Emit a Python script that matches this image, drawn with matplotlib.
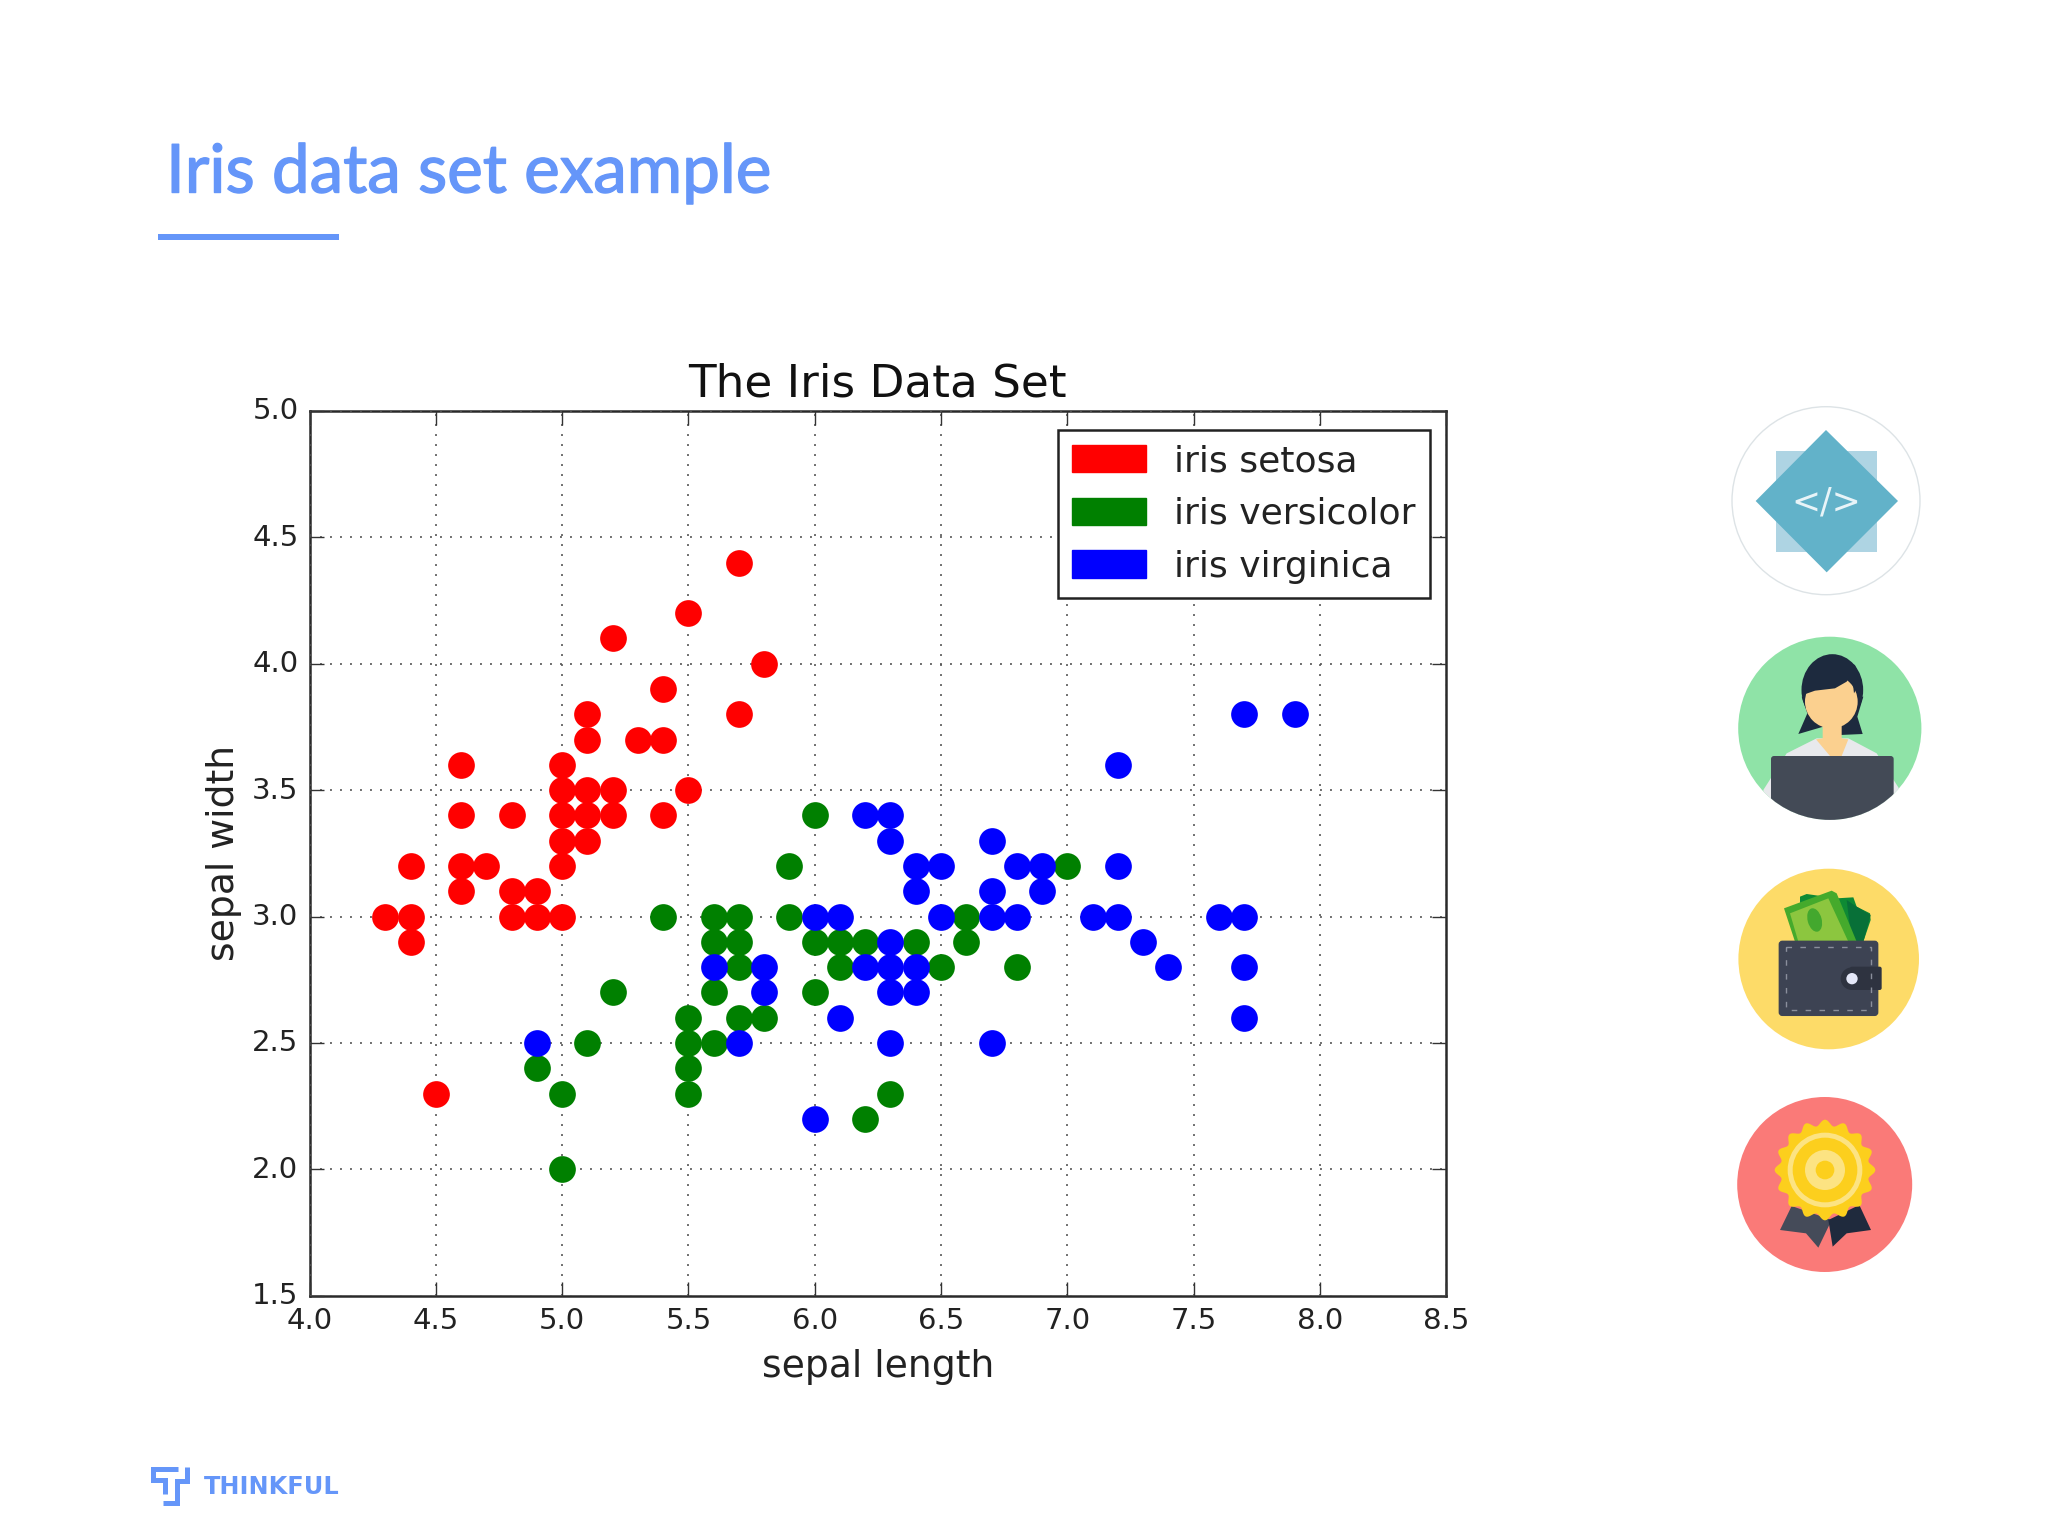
import numpy as np
import matplotlib
matplotlib.use("Agg")
import matplotlib.pyplot as plt
import matplotlib.patheffects as pe
from matplotlib.patches import Circle, Polygon, Rectangle, FancyBboxPatch, Patch, Ellipse
from matplotlib.transforms import ScaledTranslation

plt.rcParams['lines.scale_dashes'] = False
plt.rcParams['font.family'] = 'DejaVu Sans'

# Scatter data (sepal length, sepal width)
setosa_x = [5.7, 5.5, 5.2, 5.8, 5.4, 5.1, 5.7, 5.1, 5.3, 5.4, 4.6, 5.0, 5.0, 5.1, 5.2, 5.5, 4.6, 4.8, 5.0,
            5.1, 5.2, 5.4, 5.0, 5.1, 4.4, 4.6, 4.7, 5.0, 4.6, 4.8, 4.9, 4.3, 4.4, 4.8, 4.9, 5.0, 4.4, 4.5]
setosa_y = [4.4, 4.2, 4.1, 4.0, 3.9, 3.8, 3.8, 3.7, 3.7, 3.7, 3.6, 3.6, 3.5, 3.5, 3.5, 3.5, 3.4, 3.4, 3.4,
            3.4, 3.4, 3.4, 3.3, 3.3, 3.2, 3.2, 3.2, 3.2, 3.1, 3.1, 3.1, 3.0, 3.0, 3.0, 3.0, 3.0, 2.9, 2.3]

versicolor_x = [6.0, 5.9, 7.0, 5.4, 5.6, 5.7, 5.9, 6.6, 5.6, 5.7, 6.0, 6.1, 6.2, 6.4, 6.6, 5.7, 6.1, 6.5, 6.8,
                5.2, 5.6, 6.0, 5.5, 5.7, 5.8, 5.1, 5.5, 5.6, 4.9, 5.5, 5.0, 5.5, 6.3, 6.2, 5.0]
versicolor_y = [3.4, 3.2, 3.2, 3.0, 3.0, 3.0, 3.0, 3.0, 2.9, 2.9, 2.9, 2.9, 2.9, 2.9, 2.9, 2.8, 2.8, 2.8, 2.8,
                2.7, 2.7, 2.7, 2.6, 2.6, 2.6, 2.5, 2.5, 2.5, 2.4, 2.4, 2.3, 2.3, 2.3, 2.2, 2.0]

virginica_x = [7.7, 7.9, 7.2, 6.2, 6.3, 6.3, 6.7, 6.4, 6.5, 6.8, 6.9, 7.2, 6.4, 6.7, 6.9, 6.0, 6.1, 6.5, 6.7,
               6.8, 7.1, 7.2, 7.6, 7.7, 6.3, 7.3, 5.6, 5.8, 6.2, 6.3, 6.4, 7.4, 7.7, 5.8, 6.3, 6.4, 6.1, 7.7,
               4.9, 5.7, 6.3, 6.7, 6.0]
virginica_y = [3.8, 3.8, 3.6, 3.4, 3.4, 3.3, 3.3, 3.2, 3.2, 3.2, 3.2, 3.2, 3.1, 3.1, 3.1, 3.0, 3.0, 3.0, 3.0,
               3.0, 3.0, 3.0, 3.0, 3.0, 2.9, 2.9, 2.8, 2.8, 2.8, 2.8, 2.8, 2.8, 2.8, 2.7, 2.7, 2.7, 2.6, 2.6,
               2.5, 2.5, 2.5, 2.5, 2.2]

x_ticks = [4.0, 4.5, 5.0, 5.5, 6.0, 6.5, 7.0, 7.5, 8.0, 8.5]
y_ticks = [1.5, 2.0, 2.5, 3.0, 3.5, 4.0, 4.5, 5.0]

W, H = 2048, 1536
BLUE = '#6596F9'
AX_L, AX_R, AX_T, AX_B = 309.6, 1446.1, 410.8, 1295.8

fig = plt.figure(figsize=(W / 100, H / 100), dpi=100, facecolor='white')

# full page overlay in pixel coords, for the slide furniture
page = fig.add_axes([0, 0, 1, 1])
page.set_xlim(0, W)
page.set_ylim(H, 0)
page.axis('off')

page.text(166, 192.5, 'Iris data set example', color=BLUE, fontsize=48.5, family='Lato', va='baseline',
          path_effects=[pe.withStroke(linewidth=1.0, foreground=BLUE)])
page.add_patch(Rectangle((158, 234), 181, 6, color=BLUE, lw=0))

# logo
def logo_pt(x, y):
    return 130 + x / 3, 1440 + y / 3

for path in ([(145, 87), (68, 87), (68, 120), (105, 120), (105, 162)],
             [(172, 80), (172, 122), (140, 122), (140, 190), (100, 190)]):
    xs, ys = zip(*[logo_pt(*p) for p in path])
    page.plot(xs, ys, color=BLUE, lw=3.6, solid_joinstyle='miter', solid_capstyle='butt')
page.text(204, 1494, 'THINKFUL', color=BLUE, fontsize=17.3, weight='bold', va='baseline')

# icons, coords taken from 3x crops
def crop(ox, oy):
    return lambda pts: [(ox + x / 3, oy + y / 3) for x, y in pts]

# code icon
c = crop(1700, 380)
page.add_patch(Circle((1826, 500.7), 94, fc='white', ec='#DDE3E6', lw=1))
page.add_patch(Rectangle((1776, 451), 101, 101, color='#AED4E3', lw=0))
page.add_patch(Polygon(c([(378, 150), (594, 363), (380, 577), (167, 363)]), color='#62B2C9', lw=0))
page.text(1826.5, 503, '</>', color='#E8F4F8', fontsize=25, ha='center', va='center')

# person icon
bg = Circle((1829.8, 728.3), 91.6, fc='#8FE3A7', lw=0)
page.add_patch(bg)
shirt = Polygon(c([(190, 1230), (260, 1120), (350, 1075), (445, 1075), (530, 1120), (600, 1230), (600, 1320), (190, 1320)]),
                color='#E8E9EC', lw=0)
page.add_patch(shirt)
shirt.set_clip_path(bg)
page.add_patch(Ellipse((1700 + 397 / 3, 380 + 930 / 3), 185 / 3, 215 / 3, color='#1D2A3E', lw=0))
page.add_patch(Polygon(c([(305, 950), (490, 950), (472, 1010), (488, 1062), (420, 1065), (370, 1040), (295, 1062), (322, 1000)]),
                       color='#1D2A3E', lw=0))
page.add_patch(Polygon(c([(368, 1030), (368, 1075), (348, 1078), (390, 1128), (425, 1128), (445, 1078), (425, 1075), (425, 1030)]),
                       color='#FBD08F', lw=0))
page.add_patch(Ellipse((1700 + 394 / 3, 380 + 965 / 3), 158 / 3, 160 / 3, color='#FBD08F', lw=0))
page.add_patch(Polygon(c([(308, 945), (345, 932), (405, 925), (440, 905), (455, 880), (462, 940), (482, 905), (465, 855),
                          (400, 830), (330, 865)]), color='#1D2A3E', lw=0))
laptop = FancyBboxPatch((1700 + 213 / 3, 380 + 1128 / 3), 368 / 3, 200 / 3, boxstyle='round,pad=0,rounding_size=3',
                        fc='#434A56', lw=0)
page.add_patch(laptop)
laptop.set_clip_path(bg)

# wallet icon
c = crop(1700, 850)
page.add_patch(Circle((1828.7, 959), 90.3, fc='#FDDB68', lw=0))
page.add_patch(Polygon(c([(300, 140), (320, 132), (410, 145), (460, 142), (470, 170), (510, 190), (512, 210), (490, 275), (300, 275)]),
                       color='#0E8A34', lw=0))
page.add_patch(Polygon(c([(440, 150), (470, 170), (512, 195), (490, 275), (455, 275)]), color='#087038', lw=0))
page.add_patch(Polygon(c([(252, 175), (395, 122), (410, 130), (470, 275), (285, 275)]), color='#45AA2C', lw=0))
page.add_patch(Polygon(c([(270, 190), (385, 145), (445, 275), (295, 275)]), color='#8CC63F', lw=0))
page.add_patch(Ellipse((1700 + 344 / 3, 850 + 210 / 3), 42 / 3, 72 / 3, angle=-15, color='#43A82E', lw=0))
page.add_patch(FancyBboxPatch((1700 + 238 / 3, 850 + 274 / 3), 295 / 3, 222 / 3, boxstyle='round,pad=0,rounding_size=3',
                              fc='#3D4353', lw=1, ec='#3D4353'))
stitch = c([(258, 290), (512, 290), (512, 480), (258, 480), (258, 290)])
page.plot(*zip(*stitch), color='#8A8F9C', lw=1.0, ls=(0, (4, 6)))
page.add_patch(FancyBboxPatch((1700 + 450 / 3, 850 + 350 / 3), 95 / 3, 70 / 3, boxstyle='round,pad=0,rounding_size=2',
                              fc='#2E3340', lw=0))
page.add_patch(Circle((1700 + 456 / 3, 850 + 386 / 3), 34 / 3, fc='#2E3340', lw=0))
page.add_patch(Circle((1700 + 456 / 3, 850 + 386 / 3), 17 / 3, fc='#E4E8F8', lw=0))

# medal icon
page.add_patch(Circle((1824.7, 1184.5), 87.5, fc='#FA7A78', lw=0))
page.add_patch(Polygon(c([(275, 1068), (240, 1140), (318, 1150), (355, 1193), (395, 1110)]), color='#454B59', lw=0))
page.add_patch(Polygon(c([(385, 1110), (398, 1190), (440, 1150), (513, 1140), (478, 1065)]), color='#1F2A3D', lw=0))
t = np.linspace(0, 2 * np.pi, 400)
r = (142 + 9 * np.cos(16 * t)) / 3
cx, cy = 1700 + 375 / 3, 850 + 960 / 3
page.add_patch(Polygon(np.c_[cx + r * np.cos(t), cy + r * np.sin(t)], color='#FCCF1D', lw=0))
for rad, col in [(112, '#FCE382'), (97, '#FCCF1D'), (60, '#FCE382'), (28, '#FCCF1D')]:
    page.add_patch(Circle((cx, cy), rad / 3, fc=col, lw=0))

# the chart
ax = fig.add_axes([AX_L / W, 1 - AX_B / H, (AX_R - AX_L) / W, (AX_B - AX_T) / H])
ax.patch.set_facecolor('white')
ax.scatter(setosa_x, setosa_y, s=370, color='red', linewidths=0, zorder=3)
ax.scatter(versicolor_x, versicolor_y, s=370, color='green', linewidths=0, zorder=3)
ax.scatter(virginica_x, virginica_y, s=370, color='blue', linewidths=0, zorder=3)

ax.set_xlim(4.0, 8.5)
ax.set_ylim(1.5, 5.0)
ax.set_xticks(x_ticks)
ax.set_yticks(y_ticks)
ax.grid(True, color='#555555', lw=1.2, ls=(0, (1.4, 5.8)), zorder=4)
ax.set_axisbelow(False)
ax.tick_params(direction='in', top=True, right=True, length=10, width=1.0, color='#333333',
               labelsize=21, labelcolor='#222222', pad=8)
# y tick labels sit a little above their ticks in the original
for lab in ax.get_yticklabels():
    lab.set_transform(lab.get_transform() + ScaledTranslation(0, 2.5 / 100, fig.dpi_scale_trans))
for s in ax.spines.values():
    s.set_linewidth(1.8)
    s.set_color('#2a2a2a')

ax.set_title('The Iris Data Set', fontsize=32.6, pad=10, color='#111111')
ax.set_xlabel('sepal length', fontsize=27.2, labelpad=10, color='#222222')
ax.set_ylabel('sepal width', fontsize=27.2, labelpad=7, color='#222222')

handles = [Patch(color='red', label='iris setosa'),
           Patch(color='green', label='iris versicolor'),
           Patch(color='blue', label='iris virginica')]
leg = ax.legend(handles=handles, loc='upper right',
                bbox_to_anchor=((1429.5 - AX_L) / (AX_R - AX_L), (AX_B - 430) / (AX_B - AX_T)),
                borderaxespad=0, fontsize=26, fancybox=False, framealpha=1, edgecolor='#222222', labelcolor='#222222',
                handlelength=2.05, handleheight=0.78, handletextpad=0.78, labelspacing=0.52, borderpad=0.39)
leg.get_frame().set_linewidth(1.8)
leg.set_zorder(6)

fig.savefig('out.png', dpi=100)
